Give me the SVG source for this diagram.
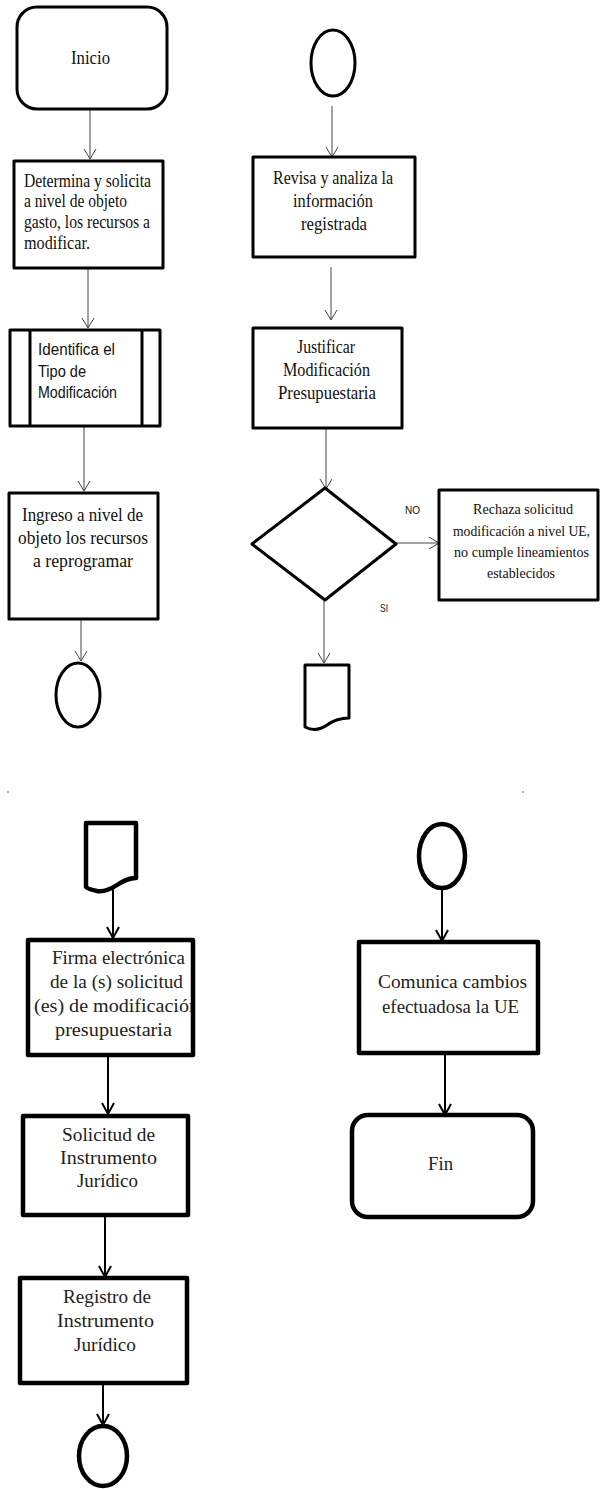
<svg xmlns="http://www.w3.org/2000/svg" width="600" height="1489" viewBox="0 0 600 1489">
  <style>
    .bg { fill: #ffffff; }
    .box { fill: #ffffff; stroke: #000000; stroke-width: 3; stroke-linejoin: round; }
    .box2 { fill: #ffffff; stroke: #000000; stroke-width: 4.5; stroke-linejoin: round; }
    .lbl { font-family: "Liberation Serif", "DejaVu Serif", serif; font-size: 18px; fill: #111111; }
    .lbl2 { font-family: "Liberation Serif", "DejaVu Serif", serif; font-size: 18px; fill: #222222; }
    .sm { font-size: 15px; }
    .sans { font-family: "Liberation Sans", Arial, sans-serif; font-size: 16px; fill: #111111; }
    .tag { font-family: "Liberation Sans", Arial, sans-serif; font-size: 11px; fill: #111111; }
    .edge { fill: none; stroke: #444444; stroke-width: 1; }
    .edge2 { fill: none; stroke: #000000; stroke-width: 2; }
  </style>
  <defs>
    <marker id="vee" markerWidth="14" markerHeight="14" refX="11" refY="7" orient="auto" markerUnits="userSpaceOnUse">
      <path d="M1,1 L11,7 L1,13" fill="none" stroke="#444444" stroke-width="1"/>
    </marker>
    <marker id="vee2" markerWidth="16" markerHeight="16" refX="12" refY="8" orient="auto" markerUnits="userSpaceOnUse">
      <path d="M1,2 L12,8 L1,14" fill="none" stroke="#000000" stroke-width="2"/>
    </marker>
    <clipPath id="firmaClip">
      <rect x="30" y="941" width="161" height="112"/>
    </clipPath>
  </defs>

  <rect class="bg" x="0" y="0" width="600" height="1489"/>

  <!-- connectors -->
  <g id="connectors">
    <line class="edge" x1="90" y1="109" x2="90" y2="159" marker-end="url(#vee)"/>
    <line class="edge" x1="88" y1="268" x2="88" y2="328" marker-end="url(#vee)"/>
    <line class="edge" x1="84" y1="427" x2="84" y2="491" marker-end="url(#vee)"/>
    <line class="edge" x1="81" y1="619" x2="81" y2="661" marker-end="url(#vee)"/>
    <line class="edge" x1="332" y1="106" x2="332" y2="157" marker-end="url(#vee)"/>
    <line class="edge" x1="331" y1="267" x2="331" y2="320" marker-end="url(#vee)"/>
    <line class="edge" x1="326" y1="428" x2="326" y2="489" marker-end="url(#vee)"/>
    <line class="edge" x1="396" y1="543" x2="439" y2="543" marker-end="url(#vee)"/>
    <line class="edge" x1="324" y1="600" x2="324" y2="663" marker-end="url(#vee)"/>
    <g id="edge-labels">
      <text class="tag" x="405" y="514" textLength="15" lengthAdjust="spacingAndGlyphs">NO</text>
      <text class="tag" x="380" y="612" textLength="8" lengthAdjust="spacingAndGlyphs">SI</text>
    </g>
    <line class="edge2" x1="113" y1="889" x2="113" y2="938" marker-end="url(#vee2)"/>
    <line class="edge2" x1="108" y1="1055" x2="108" y2="1114" marker-end="url(#vee2)"/>
    <line class="edge2" x1="105" y1="1215" x2="105" y2="1277" marker-end="url(#vee2)"/>
    <line class="edge2" x1="103" y1="1383" x2="103" y2="1425" marker-end="url(#vee2)"/>
    <line class="edge2" x1="442" y1="888" x2="442" y2="941" marker-end="url(#vee2)"/>
    <line class="edge2" x1="445" y1="1053" x2="445" y2="1115" marker-end="url(#vee2)"/>
  </g>

  <!-- upper left column -->
  <g id="inicio">
    <rect class="box" x="17" y="7" width="150" height="102" rx="20"/>
    <text class="lbl" x="71" y="64" textLength="39" lengthAdjust="spacingAndGlyphs">Inicio</text>
  </g>
  <g id="determina">
    <rect class="box" x="14" y="161" width="149" height="107"/>
    <text class="lbl" x="24" y="187" textLength="127" lengthAdjust="spacingAndGlyphs">Determina y solicita</text>
    <text class="lbl" x="24" y="207" textLength="103" lengthAdjust="spacingAndGlyphs">a nivel de objeto</text>
    <text class="lbl" x="24" y="228" textLength="126" lengthAdjust="spacingAndGlyphs">gasto, los recursos a</text>
    <text class="lbl" x="24" y="249" textLength="66" lengthAdjust="spacingAndGlyphs">modificar.</text>
  </g>
  <g id="identifica">
    <rect class="box" x="10" y="330" width="150" height="96"/>
    <line class="box" x1="30" y1="330" x2="30" y2="426"/>
    <line class="box" x1="142" y1="330" x2="142" y2="426"/>
    <text class="sans" x="38" y="355" textLength="77" lengthAdjust="spacingAndGlyphs">Identifica el</text>
    <text class="sans" x="38" y="377" textLength="48" lengthAdjust="spacingAndGlyphs">Tipo de</text>
    <text class="sans" x="38" y="398" textLength="79" lengthAdjust="spacingAndGlyphs">Modificación</text>
  </g>
  <g id="ingreso">
    <rect class="box" x="9" y="493" width="149" height="126"/>
    <text class="lbl" x="22" y="521" textLength="121" lengthAdjust="spacingAndGlyphs">Ingreso a nivel de</text>
    <text class="lbl" x="18" y="544" textLength="130" lengthAdjust="spacingAndGlyphs">objeto los recursos</text>
    <text class="lbl" x="33" y="567" textLength="100" lengthAdjust="spacingAndGlyphs">a reprogramar</text>
  </g>
  <g id="conector-a">
    <ellipse class="box" cx="78" cy="695" rx="22" ry="32"/>
  </g>

  <!-- upper right column -->
  <g id="conector-b">
    <ellipse class="box" cx="333" cy="63" rx="22" ry="33"/>
  </g>
  <g id="revisa">
    <rect class="box" x="253" y="157" width="162" height="100"/>
    <text class="lbl" x="273" y="184" textLength="120" lengthAdjust="spacingAndGlyphs">Revisa y analiza la</text>
    <text class="lbl" x="293" y="207" textLength="80" lengthAdjust="spacingAndGlyphs">información</text>
    <text class="lbl" x="301" y="230" textLength="66" lengthAdjust="spacingAndGlyphs">registrada</text>
  </g>
  <g id="justificar">
    <rect class="box" x="253" y="328" width="149" height="100"/>
    <text class="lbl" x="297" y="353" textLength="58" lengthAdjust="spacingAndGlyphs">Justificar</text>
    <text class="lbl" x="283" y="376" textLength="87" lengthAdjust="spacingAndGlyphs">Modificación</text>
    <text class="lbl" x="278" y="399" textLength="98" lengthAdjust="spacingAndGlyphs">Presupuestaria</text>
  </g>
  <g id="decision">
    <polygon class="box" points="325,488 396,544 325,600 252,544"/>
  </g>
  <g id="rechaza">
    <rect class="box" x="439" y="490" width="159" height="110"/>
    <text class="lbl sm" x="473" y="514" textLength="100" lengthAdjust="spacingAndGlyphs">Rechaza solicitud</text>
    <text class="lbl sm" x="453" y="536" font-size="14" textLength="137" lengthAdjust="spacingAndGlyphs">modificación a nivel UE,</text>
    <text class="lbl sm" x="454" y="557" textLength="135" lengthAdjust="spacingAndGlyphs">no cumple lineamientos</text>
    <text class="lbl sm" x="487" y="578" textLength="68" lengthAdjust="spacingAndGlyphs">establecidos</text>
  </g>
  <g id="documento-a">
    <path class="box" d="M305,665 H349 V718 C340,718 334,720 327,725 C320,730 313,731 305,727 Z"/>
  </g>

  <!-- page marks -->
  <g id="marks">
    <circle cx="8" cy="792" r="0.8" fill="#555555"/>
    <circle cx="523" cy="792" r="0.8" fill="#555555"/>
  </g>

  <!-- lower left column -->
  <g id="documento-b">
    <path class="box2" d="M86,823 H136 V878 C128,878 123,881 117,885 C111,889 104,892 97,891 C92,890 88,889 86,887 Z"/>
  </g>
  <g id="firma">
    <rect class="box2" x="28" y="940" width="165" height="115"/>
    <g clip-path="url(#firmaClip)">
      <text class="lbl2" x="52" y="964" textLength="133" lengthAdjust="spacingAndGlyphs">Firma electrónica</text>
      <text class="lbl2" x="50" y="988" textLength="133" lengthAdjust="spacingAndGlyphs">de la (s) solicitud</text>
      <text class="lbl2" x="34" y="1012" textLength="165" lengthAdjust="spacingAndGlyphs">(es) de modificación</text>
      <text class="lbl2" x="55" y="1036" textLength="117" lengthAdjust="spacingAndGlyphs">presupuestaria</text>
    </g>
  </g>
  <g id="solicitud">
    <rect class="box2" x="23" y="1116" width="165" height="99"/>
    <text class="lbl2" x="62" y="1141" textLength="93" lengthAdjust="spacingAndGlyphs">Solicitud de</text>
    <text class="lbl2" x="60" y="1164" textLength="97" lengthAdjust="spacingAndGlyphs">Instrumento</text>
    <text class="lbl2" x="77" y="1187" textLength="61" lengthAdjust="spacingAndGlyphs">Jurídico</text>
  </g>
  <g id="registro">
    <rect class="box2" x="20" y="1278" width="167" height="105"/>
    <text class="lbl2" x="63" y="1303" textLength="88" lengthAdjust="spacingAndGlyphs">Registro de</text>
    <text class="lbl2" x="57" y="1327" textLength="97" lengthAdjust="spacingAndGlyphs">Instrumento</text>
    <text class="lbl2" x="74" y="1351" textLength="62" lengthAdjust="spacingAndGlyphs">Jurídico</text>
  </g>
  <g id="conector-c">
    <ellipse class="box2" cx="103" cy="1456" rx="24" ry="30"/>
  </g>

  <!-- lower right column -->
  <g id="conector-d">
    <ellipse class="box2" cx="442" cy="856" rx="23" ry="32"/>
  </g>
  <g id="comunica">
    <rect class="box2" x="359" y="942" width="179" height="111"/>
    <text class="lbl2" x="378" y="988" textLength="149" lengthAdjust="spacingAndGlyphs">Comunica cambios</text>
    <text class="lbl2" x="382" y="1013" textLength="137" lengthAdjust="spacingAndGlyphs">efectuadosa la UE</text>
  </g>
  <g id="fin">
    <rect class="box2" x="352" y="1115" width="181" height="102" rx="16"/>
    <text class="lbl2" x="428" y="1170" textLength="25" lengthAdjust="spacingAndGlyphs">Fin</text>
  </g>
</svg>
